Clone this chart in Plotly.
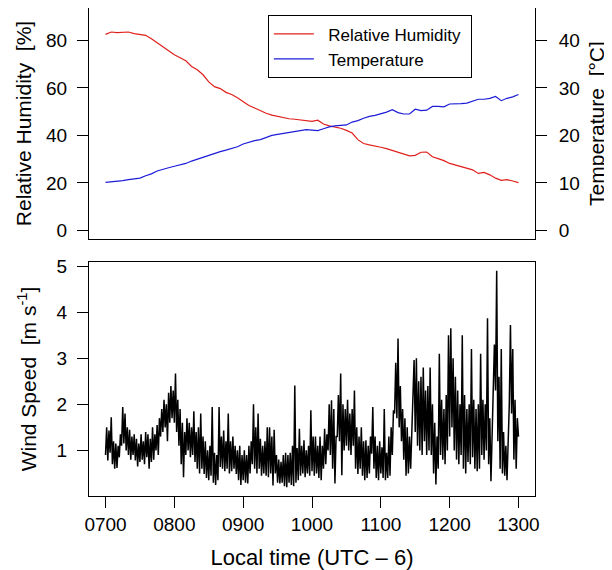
import plotly.graph_objects as go

# Top panel, sampled every 5 minutes from 0700 to 1300 local time
rh_minutes = list(range(0, 361, 5))
rel_humidity = [
    82.5, 83.5, 83.2, 83.4, 83.5, 82.8, 82.5, 82.1, 80.7, 79.0,
    77.2, 75.5, 73.9, 72.7, 71.4, 69.0, 67.6, 65.5, 62.5, 60.5,
    59.7, 58.1, 57.2, 55.8, 54.1, 52.6, 51.5, 50.3, 49.3, 48.5,
    47.9, 47.3, 47.0, 46.8, 46.4, 46.0, 45.9, 46.4, 44.8, 44.0,
    43.6, 43.0, 42.1, 41.0, 38.2, 36.6, 36.0, 35.6, 35.0, 34.4,
    33.6, 32.8, 31.9, 31.4, 31.6, 32.9, 33.0, 31.0, 30.2, 29.4,
    28.2, 27.6, 26.9, 26.4, 25.5, 24.0, 24.4, 23.4, 22.0, 21.1,
    21.4, 20.8, 20.1,
]
temperature = [
    10.1, 10.2, 10.3, 10.5, 10.7, 10.8, 11.0, 11.5, 11.9, 12.5,
    12.9, 13.2, 13.5, 13.8, 14.1, 14.6, 15.0, 15.5, 15.9, 16.3,
    16.6, 16.9, 17.2, 17.6, 18.2, 18.6, 18.9, 19.1, 19.6, 20.0,
    20.2, 20.4, 20.6, 20.7, 20.9, 21.2, 21.1, 21.0, 21.4, 21.8,
    22.0, 22.1, 22.2, 22.8, 23.1, 23.6, 24.0, 24.2, 24.5, 24.9,
    25.4, 24.8, 24.5, 24.5, 25.5, 25.2, 25.3, 26.1, 26.1, 26.0,
    26.6, 26.6, 26.7, 26.8, 27.2, 27.6, 27.6, 27.8, 28.2, 27.3,
    27.8, 28.1, 28.6,
]

# Bottom panel, one value per minute (each row = 10 minutes)
wind_minutes = list(range(0, 361))
wind_speed = [
    0.9, 1.5, 0.78, 1.43, 0.95, 1.72, 0.7, 1.2, 0.6, 1.15,
    0.62, 1.1, 0.85, 1.35, 1.1, 1.94, 1.15, 1.8, 1.0, 1.5,
    0.9, 1.45, 0.8, 1.3, 0.9, 1.35, 0.78, 1.25, 0.65, 1.15,
    0.75, 1.35, 0.8, 1.2, 0.7, 1.4, 0.85, 1.35, 0.6, 1.25,
    0.75, 1.5, 0.8, 1.35, 1.0, 1.55, 0.9, 1.7, 1.3, 1.9,
    1.4, 2.1, 1.5, 2.0, 1.2, 2.25, 1.6, 2.4, 1.7, 2.3,
    1.6, 2.67, 1.4, 2.1, 1.1, 1.9, 0.7, 1.6, 0.42, 1.4,
    0.9, 1.7, 1.0, 1.6, 0.85, 1.5, 0.9, 1.85, 0.75, 1.4,
    0.6, 1.5, 0.5, 1.8, 0.6, 1.3, 0.49, 1.2, 0.4, 1.0,
    0.35, 1.1, 0.45, 1.94, 0.3, 0.95, 0.25, 0.9, 0.35, 1.94,
    0.64, 1.3, 0.6, 1.43, 0.55, 1.2, 0.6, 1.8, 0.5, 1.2,
    0.55, 1.3, 0.6, 1.1, 0.49, 1.0, 0.35, 1.1, 0.25, 0.9,
    0.35, 1.0, 0.3, 0.9, 0.28, 1.1, 0.5, 1.2, 0.7, 2.0,
    0.6, 1.5, 0.5, 1.8, 0.6, 1.25, 0.45, 1.1, 0.5, 1.2,
    0.45, 1.5, 0.42, 1.5, 0.5, 1.3, 0.24, 1.45, 0.5, 0.9,
    0.3, 0.8, 0.28, 0.75, 0.3, 0.9, 0.22, 0.95, 0.2, 0.9,
    0.3, 0.95, 0.25, 1.1, 0.22, 2.41, 0.3, 1.05, 0.35, 1.47,
    0.45, 1.1, 0.5, 1.22, 0.42, 1.0, 0.5, 1.1, 0.45, 1.87,
    0.55, 1.3, 0.45, 1.3, 0.5, 1.1, 0.4, 1.3, 0.35, 1.1,
    0.6, 1.47, 0.7, 1.35, 1.0, 2.0, 0.9, 2.09, 0.6, 1.9,
    0.28, 1.3, 1.3, 2.2, 1.2, 2.67, 0.46, 2.0, 1.0, 1.9,
    1.1, 2.1, 1.0, 1.8, 0.9, 1.9, 1.1, 2.3, 0.6, 1.5,
    0.49, 1.3, 0.6, 1.5, 0.45, 1.2, 0.35, 1.22, 0.4, 1.1,
    0.5, 1.3, 0.93, 1.94, 0.6, 1.3, 0.4, 1.1, 0.35, 1.2,
    0.5, 1.07, 0.4, 1.9, 0.35, 0.95, 0.4, 1.3, 0.45, 1.5,
    0.9, 1.87, 1.8, 2.9, 1.7, 3.43, 1.5, 2.4, 1.2, 1.9,
    0.8, 1.7, 0.45, 1.5, 0.5, 1.3, 0.6, 1.4, 1.7, 2.96,
    1.4, 3.0, 1.1, 2.5, 1.0, 2.6, 0.9, 2.8, 1.2, 2.3,
    0.9, 2.4, 1.0, 2.8, 0.9, 2.0, 0.5, 1.6, 0.26, 1.3,
    0.6, 3.1, 0.9, 2.1, 0.8, 1.9, 0.7, 2.2, 1.0, 3.5,
    1.3, 3.65, 1.5, 3.0, 1.0, 2.6, 0.8, 2.3, 0.7, 2.0,
    0.9, 3.5, 0.6, 2.2, 0.5, 1.9, 0.75, 2.0, 0.7, 3.2,
    0.85, 2.1, 0.6, 1.9, 0.55, 2.0, 0.6, 3.1, 0.9, 2.1,
    0.8, 2.0, 1.0, 3.87, 0.7, 1.7, 0.33, 1.5, 2.0, 3.3,
    2.3, 4.9, 1.2, 2.6, 0.6, 3.2, 0.5, 1.4, 0.45, 1.1,
    0.35, 1.0, 2.0, 3.72, 1.8, 3.2, 0.8, 2.1, 0.6, 1.7,
    1.3,
]

hour_ticks = [7, 8, 9, 10, 11, 12, 13]
hour_labels = ["0700", "0800", "0900", "1000", "1100", "1200", "1300"]

rh_hours = [7 + m / 60 for m in rh_minutes]
wind_hours = [7 + m / 60 for m in wind_minutes]

FONT = "Liberation Sans, Arial, Helvetica, sans-serif"

fig = go.Figure()
fig.add_trace(go.Scatter(x=rh_hours, y=rel_humidity, mode="lines",
                         name="\u00a0\u00a0Relative Humidity\u00a0",
                         line=dict(color="#e0201c", width=1.2), xaxis="x", yaxis="y"))
fig.add_trace(go.Scatter(x=rh_hours, y=temperature, mode="lines",
                         name="\u00a0\u00a0Temperature",
                         line=dict(color="#1c1cd8", width=1.2), xaxis="x", yaxis="y2"))
fig.add_trace(go.Scatter(x=wind_hours, y=wind_speed, mode="lines", showlegend=False,
                         line=dict(color="black", width=1.5), xaxis="x2", yaxis="y3"))

axis_common = dict(showgrid=False, zeroline=False, showline=True, linecolor="black",
                   linewidth=1, tickcolor="black", ticklen=11, tickwidth=1,
                   tickfont=dict(size=19, color="black"), automargin=False)

# the page body adds an 8px offset, so the figure is drawn 8px smaller
fig.update_layout(
    width=604, height=562,
    margin=dict(l=81, r=77, t=0, b=74),
    paper_bgcolor="white", plot_bgcolor="white",
    font=dict(family=FONT, color="black"),
    xaxis=dict(axis_common, domain=[0, 1], anchor="y", range=[6.76, 13.24],
               mirror=True, ticks="", showticklabels=False),
    yaxis=dict(axis_common, domain=[0.5266, 1], anchor="x", range=[-3.6, 93.6],
               tickvals=[0, 20, 40, 60, 80], ticks="outside", mirror=True,
               ticklabelstandoff=6,
               title=dict(text="Relative Humidity\u00a0 [%]", font=dict(size=21), standoff=8)),
    yaxis2=dict(axis_common, overlaying="y", side="right", anchor="x", range=[-1.8, 46.8],
                tickvals=[0, 10, 20, 30, 40], ticks="outside",
                ticklabelstandoff=8,
                title=dict(text="Temperature\u00a0 [°C]", font=dict(size=21), standoff=10)),
    xaxis2=dict(axis_common, domain=[0, 1], anchor="y3", range=[6.76, 13.24],
                tickvals=hour_ticks, ticktext=hour_labels, ticks="outside", mirror=True,
                ticklabelstandoff=0,
                title=dict(text="Local time (UTC \u2013 6)", font=dict(size=22), standoff=19)),
    yaxis3=dict(axis_common, domain=[0, 0.4795], anchor="x2", range=[0.01, 5.09],
                tickvals=[1, 2, 3, 4, 5], ticks="outside", mirror=True,
                ticklabelstandoff=6,
                title=dict(text="Wind Speed\u00a0 [m s<sup>-1</sup>]", font=dict(size=21), standoff=14)),
    legend=dict(x=0.401, y=0.985, xanchor="left", yanchor="top", bgcolor="white",
                bordercolor="black", borderwidth=1, font=dict(size=17),
                tracegroupgap=0, itemwidth=40),
)

fig.write_html("out.html")
